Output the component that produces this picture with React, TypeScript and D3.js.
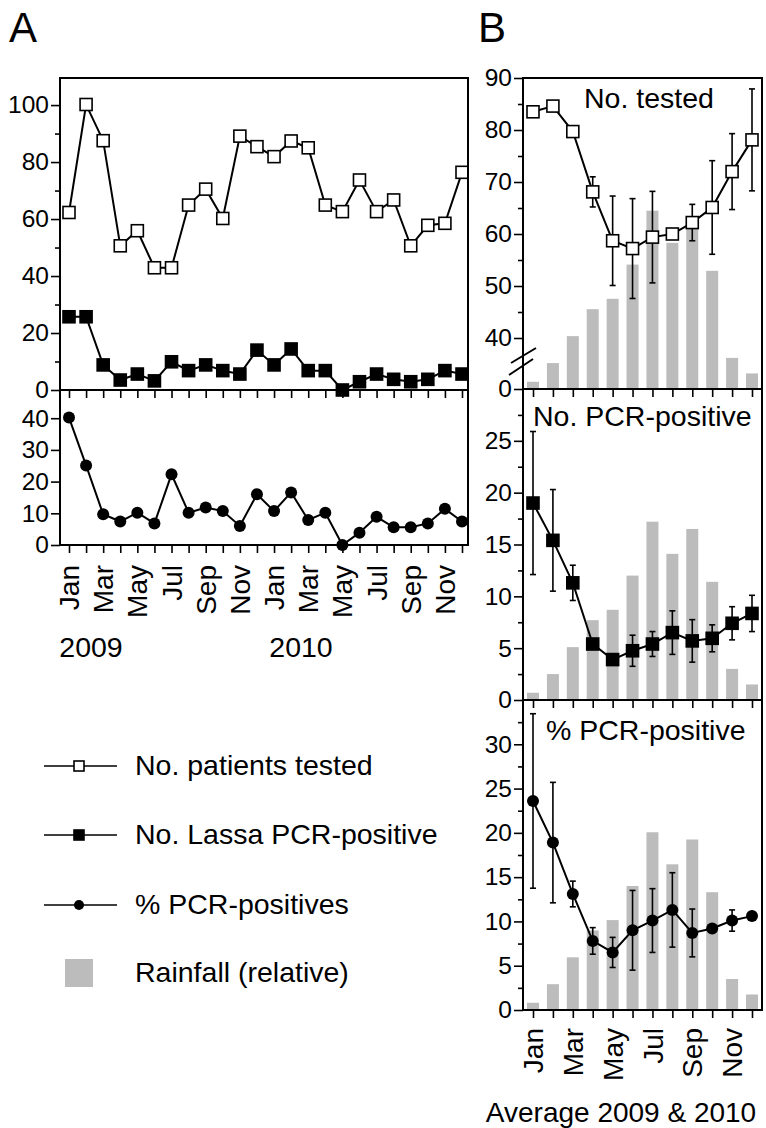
import { useEffect, useRef } from 'react';
import * as d3 from 'd3';

// Panel A: monthly values Jan 2009 - Dec 2010
const monthsA = [
  'Jan', 'Feb', 'Mar', 'Apr', 'May', 'Jun', 'Jul', 'Aug', 'Sep', 'Oct', 'Nov', 'Dec',
  'Jan', 'Feb', 'Mar', 'Apr', 'May', 'Jun', 'Jul', 'Aug', 'Sep', 'Oct', 'Nov', 'Dec',
];
const testedA = [62.3, 100.2, 87.5, 50.6, 55.9, 42.9, 42.9, 64.9, 70.5, 60.2, 89.1, 85.4,
  81.9, 87.4, 85.0, 64.9, 62.6, 73.7, 62.6, 66.7, 50.6, 57.8, 58.5, 76.4];
const positiveA = [25.7, 25.7, 8.8, 3.5, 5.6, 3.2, 9.9, 6.8, 8.8, 6.8, 5.6, 14.0,
  8.8, 14.4, 6.8, 6.8, 0, 2.9, 5.6, 3.75, 2.9, 3.75, 6.8, 5.6];
const percentA = [40.2, 25.1, 9.7, 7.4, 10.2, 6.8, 22.3, 10.2, 11.8, 10.7, 6.0, 16.0,
  10.7, 16.6, 7.9, 10.2, 0, 3.9, 8.9, 5.6, 5.6, 6.8, 11.4, 7.4];
const yearLabels = ['2009', '2010'];

// Panel B: average of 2009 & 2010 per month
const monthsB = ['Jan', 'Feb', 'Mar', 'Apr', 'May', 'Jun', 'Jul', 'Aug', 'Sep', 'Oct', 'Nov', 'Dec'];
const testedB = [83.5, 84.6, 79.7, 68.1, 58.7, 57.2, 59.4, 60.0, 62.2, 65.1, 72.0, 78.1];
const testedBErr = [0.5, 0.5, 0.5, 2.9, 8.6, 9.6, 8.8, 0.5, 3.5, 9.0, 7.3, 9.8];
const positiveB = [19.0, 15.4, 11.3, 5.4, 3.9, 4.75, 5.4, 6.5, 5.7, 5.95, 7.4, 8.35];
const positiveBErr = [6.9, 4.9, 1.7, 0.4, 0.4, 1.5, 1.2, 2.1, 2.05, 1.3, 1.6, 1.75];
const percentB = [23.6, 18.9, 13.1, 7.8, 6.5, 9.0, 10.1, 11.3, 8.7, 9.2, 10.1, 10.6];
const percentBErr = [9.85, 6.8, 1.45, 1.5, 1.7, 4.5, 3.6, 4.2, 2.7, 0.3, 1.2, 0.3];
const rainfall = [0.7, 2.5, 5.1, 7.7, 8.7, 12.0, 17.2, 14.1, 16.5, 11.4, 3.0, 1.5];

const legendItems = [
  { label: 'No. patients tested', marker: 'open' },
  { label: 'No. Lassa PCR-positive', marker: 'filled' },
  { label: '% PCR-positives', marker: 'circle' },
  { label: 'Rainfall (relative)', marker: 'bar' },
];

const FONT = '"Liberation Sans", Arial, Helvetica, sans-serif';
const GREY = '#bcbcbc';

type Sel = d3.Selection<SVGGElement, unknown, null, undefined>;

export default function App() {
  const svgRef = useRef<SVGSVGElement>(null);

  useEffect(() => {
    if (!svgRef.current) return;
    const svg = d3.select(svgRef.current);
    svg.selectAll('*').remove();
    const root = svg.append('g') as unknown as Sel;

    const styleAxis = (g: Sel) => {
      g.select('.domain').remove();
      g.selectAll('.tick line').attr('stroke', '#000').attr('stroke-width', 1.6);
      g.selectAll('.tick text').attr('fill', '#000').attr('font-size', 24.5).attr('font-family', FONT);
    };

    const yAxis = (scale: d3.ScaleLinear<number, number>, x: number, major: number[], minor: number[]) => {
      if (minor.length) {
        root.append('g').attr('transform', `translate(${x},0)`)
          .call(d3.axisLeft(scale).tickValues(minor).tickSize(5).tickFormat(() => '') as any)
          .call(styleAxis);
      }
      root.append('g').attr('transform', `translate(${x},0)`)
        .call(d3.axisLeft(scale).tickValues(major).tickSize(9).tickPadding(2)
          .tickFormat((d) => d3.format('d')(d as number)) as any)
        .call(styleAxis);
    };

    const xTicks = (scale: any, y: number) => {
      root.append('g').attr('transform', `translate(0,${y})`)
        .call(d3.axisBottom(scale).tickSize(8).tickFormat(() => '') as any)
        .call(styleAxis);
    };

    const monthLabels = (pos: (i: number) => number, labels: string[], yEnd: number) => {
      labels.forEach((m, i) => {
        if (i % 2 !== 0) return;
        root.append('text')
          .attr('transform', `translate(${pos(i)},${yEnd}) rotate(-90)`)
          .attr('text-anchor', 'end')
          .attr('dy', '0.36em')
          .attr('font-size', 28)
          .attr('font-family', FONT)
          .text(m);
      });
    };

    const drawLine = (xs: number[], ys: number[]) => {
      const line = d3.line<number>().x((_, i) => xs[i]).y((d) => d);
      root.append('path').attr('d', line(ys)).attr('fill', 'none').attr('stroke', '#000').attr('stroke-width', 2);
    };

    const drawMarker = (kind: string, cx: number, cy: number, size: number) => {
      if (kind === 'circle') {
        root.append('circle').attr('cx', cx).attr('cy', cy).attr('r', size / 2).attr('fill', '#000');
      } else {
        root.append('rect')
          .attr('x', cx - size / 2).attr('y', cy - size / 2)
          .attr('width', size).attr('height', size)
          .attr('fill', kind === 'open' ? '#fff' : '#000')
          .attr('stroke', '#000').attr('stroke-width', 1.6);
      }
    };

    const series = (xs: number[], ys: number[], kind: string, size: number) => {
      drawLine(xs, ys);
      xs.forEach((x, i) => drawMarker(kind, x, ys[i], size));
    };

    const errBars = (xs: number[], vals: number[], errs: number[], y: d3.ScaleLinear<number, number>) => {
      vals.forEach((v, i) => {
        const x = xs[i];
        const y1 = y(v + errs[i]);
        const y0 = y(v - errs[i]);
        root.append('line').attr('x1', x).attr('x2', x).attr('y1', y1).attr('y2', y0)
          .attr('stroke', '#000').attr('stroke-width', 1.6);
        [y0, y1].forEach((yy) => {
          root.append('line').attr('x1', x - 3).attr('x2', x + 3).attr('y1', yy).attr('y2', yy)
            .attr('stroke', '#000').attr('stroke-width', 1.6);
        });
      });
    };

    // ---------------- Panel A ----------------
    const aLeft = 60, aRight = 468, aTop = 78, aMid = 390, aBottom = 545;
    const xA = d3.scalePoint<number>().domain(d3.range(24)).range([69, 462]);
    const yATop = d3.scaleLinear().domain([0, 109.5]).range([aMid, aTop]);
    const yABot = d3.scaleLinear().domain([0, 48.9]).range([aBottom, aMid]);
    const xsA = d3.range(24).map((i) => xA(i) as number);

    root.append('text').attr('x', 9).attr('y', 42).attr('font-size', 42).attr('font-family', FONT).text('A');

    yAxis(yATop, aLeft, [0, 20, 40, 60, 80, 100], [10, 30, 50, 70, 90]);
    yAxis(yABot, aLeft, [0, 10, 20, 30, 40], []);
    xTicks(xA, aMid);
    xTicks(xA, aBottom);

    series(xsA, testedA.map((v) => yATop(v)), 'open', 12);
    series(xsA, positiveA.map((v) => yATop(v)), 'filled', 12);
    series(xsA, percentA.map((v) => yABot(v)), 'circle', 12);

    root.append('rect').attr('x', aLeft).attr('y', aTop).attr('width', aRight - aLeft).attr('height', aBottom - aTop)
      .attr('fill', 'none').attr('stroke', '#000').attr('stroke-width', 2);
    root.append('line').attr('x1', aLeft).attr('x2', aRight).attr('y1', aMid).attr('y2', aMid)
      .attr('stroke', '#000').attr('stroke-width', 2);

    monthLabels((i) => xA(i) as number, monthsA, 565);
    [[yearLabels[0], 91], [yearLabels[1], 301]].forEach(([t, x]) => {
      root.append('text').attr('x', x).attr('y', 657).attr('text-anchor', 'middle')
        .attr('font-size', 28.5).attr('font-family', FONT).text(t as string);
    });

    // Legend
    const legY = [766, 835, 905, 973];
    legendItems.forEach((item, i) => {
      const y = legY[i];
      if (item.marker === 'bar') {
        root.append('rect').attr('x', 65).attr('y', y - 14).attr('width', 28).attr('height', 28).attr('fill', GREY);
      } else {
        root.append('line').attr('x1', 44).attr('x2', 117).attr('y1', y).attr('y2', y)
          .attr('stroke', '#000').attr('stroke-width', 1.6);
        drawMarker(item.marker, 79, y, 10);
      }
      root.append('text').attr('x', 135).attr('y', y + 9).attr('font-size', 28.5).attr('font-family', FONT).text(item.label);
    });

    // ---------------- Panel B ----------------
    const bLeft = 523, bRight = 762, b1 = 78, b2 = 389, b3 = 700, b4 = 1010;
    const xB = d3.scalePoint<string>().domain(monthsB).range([533, 752]);
    const xsB = monthsB.map((m) => xB(m) as number);
    const yB1 = d3.scaleLinear().domain([40, 90]).range([338, b1]);
    const yB1low = d3.scaleLinear().domain([0, 40]).range([b2, 338]);
    const yB2 = d3.scaleLinear().domain([0, 30]).range([b3, b2]);
    const yB3 = d3.scaleLinear().domain([0, 35]).range([b4, b3]);

    root.append('text').attr('x', 478).attr('y', 42).attr('font-size', 42).attr('font-family', FONT).text('B');

    const bars = (bottom: number, top: number) => {
      const r = d3.scaleLinear().domain([0, 30]).range([bottom, top]);
      rainfall.forEach((v, i) => {
        root.append('rect').attr('x', xsB[i] - 6).attr('y', r(v)).attr('width', 12).attr('height', bottom - r(v))
          .attr('fill', GREY);
      });
    };
    bars(b2, b1);
    bars(b3, b2);
    bars(b4, b3);

    yAxis(yB1, bLeft, [40, 50, 60, 70, 80, 90], [45, 55, 65, 75, 85]);
    yAxis(yB1low, bLeft, [0], []);
    yAxis(yB2, bLeft, [0, 5, 10, 15, 20, 25], [2.5, 7.5, 12.5, 17.5, 22.5, 27.5]);
    yAxis(yB3, bLeft, [0, 5, 10, 15, 20, 25, 30], [2.5, 7.5, 12.5, 17.5, 22.5, 27.5, 32.5]);
    xTicks(xB, b2);
    xTicks(xB, b3);
    xTicks(xB, b4);

    errBars(xsB, testedB, testedBErr, yB1);
    series(xsB, testedB.map((v) => yB1(v)), 'open', 12);
    errBars(xsB, positiveB, positiveBErr, yB2);
    series(xsB, positiveB.map((v) => yB2(v)), 'filled', 12);
    errBars(xsB, percentB, percentBErr, yB3);
    series(xsB, percentB.map((v) => yB3(v)), 'circle', 12);

    root.append('rect').attr('x', bLeft).attr('y', b1).attr('width', bRight - bLeft).attr('height', b4 - b1)
      .attr('fill', 'none').attr('stroke', '#000').attr('stroke-width', 2);
    [b2, b3].forEach((y) => {
      root.append('line').attr('x1', bLeft).attr('x2', bRight).attr('y1', y).attr('y2', y)
        .attr('stroke', '#000').attr('stroke-width', 2);
    });

    // axis break marks
    [[511, 363, 536, 348], [509, 375, 533, 359]].forEach(([x1, y1, x2, y2]) => {
      root.append('line').attr('x1', x1).attr('y1', y1).attr('x2', x2).attr('y2', y2)
        .attr('stroke', '#000').attr('stroke-width', 2);
    });

    // panel titles
    [['No. tested', 584, 108], ['No. PCR-positive', 533, 426], ['% PCR-positive', 546, 740]].forEach(([t, x, y]) => {
      root.append('text').attr('x', x).attr('y', y).attr('font-size', 28.5).attr('font-family', FONT).text(t as string);
    });

    monthLabels((i) => xsB[i], monthsB, 1028);
    root.append('text').attr('x', 621).attr('y', 1122).attr('text-anchor', 'middle')
      .attr('font-size', 28).attr('font-family', FONT).text('Average 2009 & 2010');
  }, []);

  return (
    <svg
      ref={svgRef}
      width={766}
      height={1128}
      style={{ position: 'absolute', left: 0, top: 0, background: '#fff' }}
    />
  );
}
